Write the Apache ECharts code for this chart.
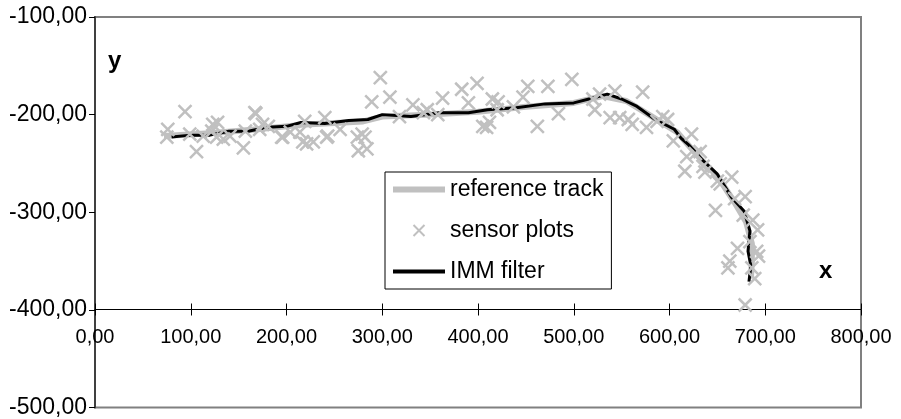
<!DOCTYPE html>
<html>
<head>
<meta charset="utf-8">
<script src="https://cdn.jsdelivr.net/npm/echarts@6/dist/echarts.min.js"></script>
<style>
  html, body { margin: 0; padding: 0; background: #fff; }
  #chart { width: 901px; height: 419px; }
</style>
</head>
<body>
<div id="chart"></div>
<script>
// reference track (gray thick line)
const referenceTrack = [
  [72, -222], [120, -219], [170, -215], [220, -210], [280, -207], [300, -202],
  [350, -200], [400, -197], [450, -192], [500, -188], [530, -181], [555, -186],
  [580, -201], [608, -218], [632, -245], [650, -263], [668, -290], [680, -310],
  [686, -332], [686, -350], [685, -368]
];

// IMM filter output (black line)
const immFilter = [
  [80, -223], [100, -221], [120, -221], [140, -217], [160, -217], [180, -213],
  [200, -212], [215, -208], [240, -209], [265, -206], [285, -205], [300, -200],
  [330, -202], [360, -198], [390, -198], [410, -195], [440, -193], [470, -189],
  [500, -188], [520, -183], [535, -179], [550, -184], [565, -191], [585, -205],
  [605, -215], [612, -224], [620, -231], [635, -247], [650, -261], [665, -285],
  [678, -299], [684, -319], [682, -340], [685, -355], [683, -371]
];

// sensor plots (gray crosses)
const sensorPlots = [
  [76, -215], [75, -223], [94, -197], [99, -220], [106, -238], [113, -222],
  [122, -217], [123, -210], [127, -223], [128, -208], [134, -225], [141, -222],
  [155, -234], [157, -217], [167, -198], [168, -199], [172, -215], [175, -210],
  [181, -212], [195, -223], [196, -223], [204, -218], [214, -218], [217, -228],
  [219, -207], [221, -230], [228, -228], [240, -203], [242, -223], [243, -222],
  [256, -215], [274, -223], [275, -237], [279, -220], [284, -235], [282, -223],
  [289, -187], [298, -162], [308, -182], [318, -202], [332, -190], [343, -198],
  [347, -195], [358, -200], [363, -183], [383, -174], [390, -188], [399, -168],
  [405, -212], [409, -213], [412, -208], [415, -184], [420, -195], [421, -187],
  [437, -192], [447, -182], [452, -171], [462, -212], [473, -171], [484, -199],
  [498, -164], [520, -184], [522, -195], [527, -179], [538, -203], [543, -176],
  [548, -203], [557, -205], [561, -210], [572, -177], [576, -213], [587, -207],
  [593, -202], [598, -205], [604, -227], [616, -258], [618, -243], [623, -220],
  [627, -240], [632, -238], [635, -253], [637, -259], [648, -298], [650, -268],
  [653, -271], [665, -264], [668, -286], [671, -337], [677, -303], [679, -284],
  [661, -357], [663, -350], [686, -357], [687, -308], [691, -340], [692, -318],
  [693, -345], [689, -368], [684, -330], [679, -395]
];

const xTicks = { min: 0, max: 800, interval: 100 };
const yTicks = { min: -500, max: -100, interval: 100 };

const fmt = v => v.toFixed(2).replace('.', ',');
const crossPath = 'path://M0,0L10,10M10,0L0,10';

const chart = echarts.init(document.getElementById('chart'));

chart.setOption({
  animation: false,
  textStyle: { fontFamily: 'Liberation Sans, Arial, sans-serif' },
  grid: {
    left: 95, top: 17, right: 40, bottom: 9,
    show: true, borderColor: '#808080', borderWidth: 2
  },
  xAxis: [
    {
      type: 'value', ...xTicks, position: 'bottom', offset: -98,
      axisLine: { show: true, lineStyle: { color: '#000', width: 1 } },
      axisTick: { show: true, length: 6, lineStyle: { color: '#000' } },
      axisLabel: { formatter: fmt, fontSize: 20, color: '#000', margin: 18 },
      splitLine: { show: false }
    },
    {
      type: 'value', ...xTicks, position: 'bottom', offset: -98,
      axisLine: { show: false },
      axisTick: { show: true, inside: true, length: 6, lineStyle: { color: '#000' } },
      axisLabel: { show: false },
      splitLine: { show: false }
    }
  ],
  yAxis: {
    type: 'value', ...yTicks,
    axisLine: { show: true, lineStyle: { color: '#404040', width: 2 } },
    axisTick: { show: true, length: 6, lineStyle: { color: '#000' } },
    axisLabel: { formatter: fmt, fontSize: 23, color: '#000', margin: 8 },
    splitLine: { show: false }
  },
  legend: {
    orient: 'vertical',
    left: 385, top: 172,
    symbolKeepAspect: true,
    data: [
      { name: 'reference track', icon: 'path://M0,0H52V6H0Z' },
      { name: 'sensor plots', icon: crossPath },
      { name: 'IMM filter', icon: 'path://M0,0H52V4H0Z' }
    ],
    borderColor: '#000', borderWidth: 1,
    padding: [6, 8, 6, 8],
    itemWidth: 52, itemHeight: 11, itemGap: 18,
    textStyle: { fontSize: 23, color: '#000' }
  },
  graphic: [
    { type: 'text', left: 108, top: 49, style: { text: 'y', font: 'bold 24px Liberation Sans', fill: '#000' } },
    { type: 'text', left: 819, top: 259, style: { text: 'x', font: 'bold 24px Liberation Sans', fill: '#000' } }
  ],
  series: [
    {
      name: 'reference track', type: 'line', data: referenceTrack,
      symbol: 'none', z: 2,
      lineStyle: { color: '#c0c0c0', width: 6 },
      itemStyle: { color: '#c0c0c0' }
    },
    {
      name: 'IMM filter', type: 'line', data: immFilter,
      symbol: 'none', z: 3,
      lineStyle: { color: '#000', width: 3 },
      itemStyle: { color: '#000' }
    },
    {
      name: 'sensor plots', type: 'scatter', data: sensorPlots,
      symbol: crossPath, symbolSize: 13, z: 4,
      itemStyle: { color: 'rgba(0,0,0,0)', borderColor: '#c0c0c0', borderWidth: 2.5, opacity: 1 }
    }
  ]
});
</script>
</body>
</html>
